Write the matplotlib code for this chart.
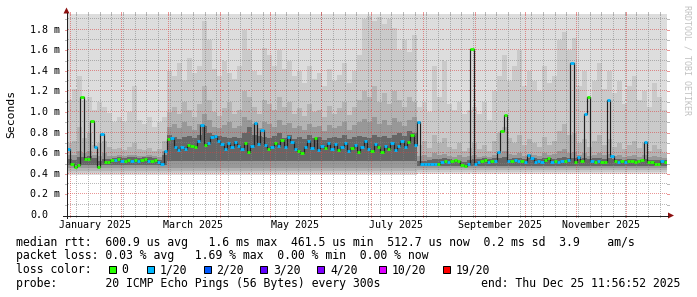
import numpy as np
import matplotlib
matplotlib.use("Agg")
import matplotlib.pyplot as plt
import matplotlib.dates as mdates
from matplotlib.patches import Polygon, Rectangle
from matplotlib.lines import Line2D
from datetime import datetime, timedelta

# ---------------------------------------------------------------- data
t_start = datetime(2024, 12, 30, 11, 56, 52)
t_end = datetime(2025, 12, 25, 11, 56, 52)
median_step_days = 2
smoke_step_days = 3

# median rtt (ms), one value per 2 days
median_ms = [
    # Dec 30 - Feb 28
    0.64, 0.50, 0.47, 0.49, 1.15, 0.54, 0.54, 0.91, 0.66, 0.47,
    0.79, 0.51, 0.51, 0.53, 0.53, 0.54, 0.52, 0.52, 0.53, 0.52,
    0.53, 0.52, 0.53, 0.54, 0.52, 0.52, 0.53, 0.51, 0.50, 0.62,
    # Feb 28 - Jul 28
    0.74, 0.75, 0.66, 0.63, 0.66, 0.64, 0.68, 0.67, 0.66, 0.72,
    0.87, 0.68, 0.70, 0.76, 0.77, 0.72, 0.69, 0.64, 0.70, 0.66,
    0.71, 0.67, 0.64, 0.70, 0.61, 0.67, 0.89, 0.69, 0.83, 0.68,
    0.64, 0.66, 0.70, 0.67, 0.73, 0.66, 0.76, 0.71, 0.64, 0.62,
    0.60, 0.66, 0.72, 0.65, 0.75, 0.63, 0.67, 0.65, 0.70, 0.64,
    0.69, 0.63, 0.66, 0.70, 0.62, 0.65, 0.68, 0.61, 0.66, 0.72,
    0.64, 0.62, 0.69, 0.66, 0.61, 0.67, 0.64, 0.70, 0.63, 0.67,
    0.72, 0.66, 0.71, 0.78, 0.68, 0.90,
    # Jul 28 - Dec 25
    0.495, 0.495, 0.495, 0.495, 0.50, 0.50, 0.51, 0.52, 0.51, 0.52,
    0.53, 0.52, 0.49, 0.48, 0.50, 1.61, 0.50, 0.51, 0.52, 0.53,
    0.51, 0.52, 0.52, 0.61, 0.82, 0.97, 0.52, 0.52, 0.53, 0.52,
    0.52, 0.51, 0.58, 0.55, 0.51, 0.52, 0.51, 0.53, 0.55, 0.51,
    0.52, 0.51, 0.52, 0.52, 0.53, 1.48, 0.51, 0.56, 0.52, 0.98,
    1.15, 0.52, 0.51, 0.52, 0.51, 0.51, 1.12, 0.57, 0.52, 0.51,
    0.52, 0.51, 0.52, 0.52, 0.51, 0.52, 0.53, 0.71, 0.51, 0.51,
    0.50, 0.50, 0.52, 0.51,
]

# lost pings (of 20) per median value
loss_n = [
    1, 0, 0, 0, 0, 0, 0, 0, 1, 0, 1, 0, 0, 0, 1, 0, 1, 0, 0, 1,
    0, 1, 0, 0, 1, 0, 0, 1, 1, 1,
    0, 1, 1, 1, 1, 1, 0, 0, 0, 1, 1, 0, 1, 1, 1, 1, 1, 1, 1, 1,
    1, 1, 1, 0, 0, 1, 1, 1, 1, 1, 0, 1, 0, 1, 0, 1, 1, 1, 1, 0,
    0, 1, 1, 1, 0, 1, 1, 0, 1, 1, 1, 0, 1, 1, 1, 0, 1, 0, 1, 1,
    1, 0, 1, 0, 0, 1, 0, 1, 1, 1, 1, 1, 0, 0, 1, 1,
    1, 1, 1, 1, 1, 0, 1, 0, 1, 0, 0, 0, 0, 0, 1, 0, 1, 1, 0, 0,
    1, 0, 1, 1, 0, 0, 1, 0, 1, 1, 0, 1, 1, 1, 1, 1, 1, 0, 0, 1,
    0, 1, 1, 0, 1, 1, 0, 1, 0, 1, 0, 1, 0, 1, 0, 0, 1, 1, 0, 1,
    0, 1, 0, 0, 0, 0, 0, 1, 0, 0, 0, 0, 1, 0,
]

loss_levels = [0, 1, 2, 3, 4, 10, 19]
loss_labels = ["0", "1/20", "2/20", "3/20", "4/20", "10/20", "19/20"]
loss_colors = ["#26ff00", "#00b8ff", "#0059ff", "#5e00ff", "#7e00ff",
               "#dd00ff", "#ff0000"]

# smoke (ping spread), one value per 3 days; three regimes
period_start = [datetime(2024, 12, 30, 11, 56, 52),
                datetime(2025, 2, 28, 11, 56, 52),
                datetime(2025, 7, 28, 11, 56, 52)]
smoke_colors = ["#dddddd", "#cacaca", "#b4b4b4", "#989898", "#666666"]
smoke_lo_by_period = [
    [0.39, 0.39, 0.40],
    [0.41, 0.41, 0.42],
    [0.43, 0.43, 0.44],
    [0.46, 0.46, 0.46],
    [0.49, 0.52, 0.48],
]
smoke_hi1_by_period = [1.96, 1.96, 1.96]

smoke_hi2 = [
    1.12, 1.22, 1.35, 1.12, 1.15, 1.02, 1.10, 1.05, 0.99, 0.90,
    0.95, 0.90, 1.00, 1.25, 0.92, 0.88, 0.95, 0.85, 0.90, 0.95,
    1.40, 1.35, 1.48, 1.30, 1.52, 1.38, 1.45, 1.88, 1.70, 1.42,
    1.35, 1.50, 1.38, 1.32, 1.45, 1.80, 1.60, 1.40, 1.36, 1.62,
    1.55, 1.45, 1.60, 1.42, 1.50, 1.35, 1.40, 1.28, 1.45, 1.32,
    1.38, 1.25, 1.42, 1.30, 1.36, 1.48, 1.28, 1.40, 1.55, 1.90,
    1.93, 1.88, 1.92, 1.85, 1.90, 1.82, 1.60, 1.70, 1.58, 1.75,
    1.05, 1.10, 1.00, 1.45, 1.15, 1.50, 1.08, 1.02, 1.10, 0.98,
    1.02, 1.05, 0.98, 1.10, 0.92, 1.20, 1.35, 1.55, 1.30, 1.45,
    1.60, 1.25, 1.40, 1.30, 1.20, 1.45, 1.28, 1.35, 1.70, 1.78,
    1.60, 1.72, 1.25, 1.40, 1.15, 1.30, 1.48, 1.22, 1.40, 1.18,
    1.30, 1.08, 1.25, 1.35, 1.12, 1.20, 1.05, 1.28, 1.15, 1.02,
]
smoke_hi3 = [
    0.70, 0.72, 0.85, 0.75, 0.80, 0.68, 0.70, 0.72, 0.66, 0.64,
    0.65, 0.63, 0.66, 0.70, 0.64, 0.63, 0.65, 0.62, 0.64, 0.72,
    1.00, 1.05, 0.98, 1.10, 1.02, 0.95, 1.08, 1.25, 1.12, 1.00,
    0.96, 1.04, 1.10, 0.98, 1.02, 1.20, 1.15, 1.05, 0.98, 1.12,
    1.08, 1.02, 1.15, 1.05, 1.10, 0.98, 1.04, 0.96, 1.08, 1.00,
    1.02, 0.95, 1.06, 0.98, 1.04, 1.10, 0.97, 1.05, 1.12, 1.20,
    1.15, 1.25, 1.10, 1.18, 1.08, 1.20, 1.12, 1.05, 1.15, 1.10,
    0.68, 0.72, 0.65, 0.78, 0.70, 0.75, 0.66, 0.64, 0.70, 0.62,
    0.65, 0.70, 0.64, 0.68, 0.62, 0.72, 0.80, 0.85, 0.75, 0.70,
    0.78, 0.68, 0.74, 0.70, 0.66, 0.76, 0.68, 0.72, 0.82, 0.88,
    0.78, 0.80, 0.70, 0.74, 0.66, 0.72, 0.78, 0.68, 0.74, 0.66,
    0.70, 0.64, 0.68, 0.72, 0.65, 0.70, 0.62, 0.68, 0.64, 0.60,
]
smoke_hi4 = [
    0.58, 0.58, 0.62, 0.60, 0.62, 0.58, 0.57, 0.60, 0.57, 0.57,
    0.58, 0.57, 0.58, 0.58, 0.57, 0.57, 0.58, 0.57, 0.56, 0.62,
    0.85, 0.88, 0.84, 0.90, 0.86, 0.83, 0.88, 0.98, 0.92, 0.85,
    0.84, 0.87, 0.90, 0.84, 0.86, 0.95, 0.92, 0.88, 0.84, 0.90,
    0.88, 0.85, 0.92, 0.87, 0.89, 0.84, 0.86, 0.83, 0.88, 0.85,
    0.86, 0.82, 0.87, 0.84, 0.86, 0.90, 0.83, 0.87, 0.90, 0.93,
    0.90, 0.95, 0.88, 0.92, 0.87, 0.94, 0.90, 0.86, 0.92, 0.95,
    0.57, 0.58, 0.56, 0.60, 0.58, 0.59, 0.57, 0.56, 0.58, 0.56,
    0.57, 0.58, 0.56, 0.57, 0.56, 0.58, 0.60, 0.62, 0.59, 0.58,
    0.60, 0.57, 0.59, 0.58, 0.57, 0.60, 0.58, 0.59, 0.62, 0.64,
    0.60, 0.61, 0.58, 0.60, 0.57, 0.58, 0.60, 0.58, 0.59, 0.57,
    0.58, 0.56, 0.57, 0.58, 0.56, 0.58, 0.56, 0.57, 0.56, 0.55,
]
smoke_hi5 = [
    0.54, 0.53, 0.56, 0.56, 0.57, 0.55, 0.52, 0.54, 0.54, 0.55,
    0.56, 0.55, 0.56, 0.56, 0.55, 0.56, 0.56, 0.55, 0.53, 0.58,
    0.78, 0.76, 0.74, 0.76, 0.77, 0.75, 0.78, 0.86, 0.80, 0.78,
    0.77, 0.76, 0.75, 0.76, 0.75, 0.80, 0.85, 0.78, 0.77, 0.76,
    0.75, 0.77, 0.80, 0.75, 0.78, 0.74, 0.76, 0.74, 0.78, 0.75,
    0.76, 0.73, 0.75, 0.76, 0.75, 0.78, 0.74, 0.76, 0.77, 0.76,
    0.75, 0.78, 0.76, 0.77, 0.75, 0.78, 0.80, 0.77, 0.82, 0.80,
    0.52, 0.52, 0.53, 0.54, 0.54, 0.55, 0.54, 0.53, 0.52, 0.51,
    0.53, 0.54, 0.54, 0.55, 0.54, 0.55, 0.55, 0.56, 0.54, 0.55,
    0.55, 0.54, 0.55, 0.55, 0.54, 0.55, 0.55, 0.54, 0.55, 0.56,
    0.55, 0.55, 0.54, 0.55, 0.54, 0.55, 0.55, 0.54, 0.55, 0.54,
    0.54, 0.53, 0.54, 0.54, 0.53, 0.54, 0.53, 0.53, 0.53, 0.53,
]

ytick_values = [0.0, 0.2, 0.4, 0.6, 0.8, 1.0, 1.2, 1.4, 1.6, 1.8]
ytick_labels = ["0.0", "0.2 m", "0.4 m", "0.6 m", "0.8 m", "1.0 m",
                "1.2 m", "1.4 m", "1.6 m", "1.8 m"]
month_labels = ["January 2025", "March 2025", "May 2025", "July 2025",
                "September 2025", "November 2025"]
month_label_months = [1, 3, 5, 7, 9, 11]

legend_rtt = ("median rtt:  600.9 us avg   1.6 ms max  461.5 us min  "
              "512.7 us now  0.2 ms sd  3.9    am/s")
legend_loss = "packet loss: 0.03 % avg   1.69 % max  0.00 % min  0.00 % now"
legend_probe = "probe:       20 ICMP Echo Pings (56 Bytes) every 300s"
legend_end = "end: Thu Dec 25 11:56:52 2025"

# ---------------------------------------------------------------- figure
W, H, DPI = 697, 297, 100
fig = plt.figure(figsize=(W / DPI, H / DPI), dpi=DPI)
fig.patch.set_facecolor("white")
L, R, T, B = 67, 667, 14, 215
ax = fig.add_axes([L / W, 1 - B / H, (R - L) / W, (B - T) / H])
ax.set_facecolor("white")
for s in ax.spines.values():
    s.set_visible(False)
ax.set_xticks([])
ax.set_yticks([])

x0 = mdates.date2num(t_start)
x1 = mdates.date2num(t_end)
ymax = (B - T) / 103.0
ax.set_xlim(x0, x1)
ax.set_ylim(0, ymax)

mono = "DejaVu Sans Mono"


def fx(px):
    return px / W


def fy(py):
    return 1 - py / H


# ---- smoke
n_smoke = len(smoke_hi2)
sm_dates = [t_start + timedelta(days=smoke_step_days * k) for k in range(n_smoke + 1)]
sm_edges = mdates.date2num(sm_dates)
pstart = mdates.date2num(period_start)
pidx = np.searchsorted(pstart, sm_edges[:-1] + 1e-6, side="right") - 1
his = [np.array(smoke_hi1_by_period)[pidx], np.array(smoke_hi2),
       np.array(smoke_hi3), np.array(smoke_hi4), np.array(smoke_hi5)]
for band, (col, hi) in enumerate(zip(smoke_colors, his)):
    lo = np.array(smoke_lo_by_period[band])[pidx]
    ax.stairs(hi, sm_edges, baseline=lo, fill=True, color=col,
              linewidth=0, zorder=1, antialiased=False)

# ---- grid (rrdtool style: dotted inside, 2px solid ticks outside)
minor_c = (0.50, 0.50, 0.50, 0.55)
major_c = (0.85, 0.25, 0.25, 0.55)
ytr = ax.get_yaxis_transform()
xtr = ax.get_xaxis_transform()
tx = 2.0 / (R - L)
ty = 2.0 / (B - T)
gkw = dict(lw=0.72, antialiased=False)
dot_x = (np.arange(L, R, 2) + 0.5 - L) / (R - L)      # every other pixel column
dot_y = (B - (np.arange(T + 1, B, 2) + 0.5)) / (B - T)  # every other pixel row

for i in range(1, 20):
    v = i * 0.1
    c = major_c if i % 2 == 0 else minor_c
    ax.plot(dot_x, np.full(dot_x.shape, v), transform=ytr, ls="none",
            marker=",", color=c, zorder=2)
    ax.plot([-tx, 0], [v, v], transform=ytr, color=c, zorder=2, clip_on=False, **gkw)
    ax.plot([1, 1 + tx], [v, v], transform=ytr, color=c, zorder=2, clip_on=False, **gkw)

sundays = []
d = datetime(2025, 1, 5)
while d < t_end:
    sundays.append(d)
    d += timedelta(days=7)
month_starts = [datetime(2025, m, 1) for m in range(1, 13)]
for dates, c, z in ((sundays, minor_c, 2), (month_starts, major_c, 2.1)):
    for d in dates:
        xv = mdates.date2num(d)
        ax.plot(np.full(dot_y.shape, xv), dot_y, transform=xtr, ls="none",
                marker=",", color=c, zorder=z)
        ax.plot([xv, xv], [-ty, 0], transform=xtr, color=c, zorder=z, clip_on=False, **gkw)
        ax.plot([xv, xv], [1, 1 + ty], transform=xtr, color=c, zorder=z, clip_on=False, **gkw)

# ---- median line + loss-coloured markers
n_med = len(median_ms)
md_dates = [t_start + timedelta(days=median_step_days * j) for j in range(n_med + 1)]
md_edges = mdates.date2num(md_dates)
med = np.array(median_ms)
ax.stairs(med, md_edges, baseline=None, color="#202020", linewidth=0.85, zorder=4)
cmap = dict(zip(loss_levels, loss_colors))
cols = [cmap[n] for n in loss_n]
ax.hlines(med, md_edges[:-1], md_edges[1:], colors=cols, linewidth=2.0,
          zorder=5, capstyle="butt")

# ---- axes lines and arrows
fig.add_artist(Line2D([fx(63), fx(668)], [fy(215.5), fy(215.5)], color="#202020", lw=0.72))
fig.add_artist(Line2D([fx(66.5), fx(66.5)], [fy(218), fy(13)], color="#202020", lw=0.72))
fig.add_artist(Polygon([(fx(668), fy(212.5)), (fx(668), fy(218.5)), (fx(674), fy(215.5))],
                       closed=True, color="#8c1010", lw=0))
fig.add_artist(Polygon([(fx(63.5), fy(13.5)), (fx(69.5), fy(13.5)), (fx(66.5), fy(7.5))],
                       closed=True, color="#8c1010", lw=0))

# ---- axis labels
for v, lab in zip(ytick_values, ytick_labels):
    ax.text((30.5 - L) / (R - L), v, lab, transform=ytr, ha="left", va="center",
            family=mono, size=7.2, color="black")
for m, lab in zip(month_label_months, month_labels):
    xv = mdates.date2num(datetime(2025, m, 1) + timedelta(days=15))
    ax.text(xv, (B - 228.0) / (B - T), lab, transform=xtr, ha="center",
            va="baseline", family=mono, size=7.2, color="black")

fig.text(fx(11), fy(114), "Seconds", rotation=90, ha="center", va="center",
         family=mono, size=8.2, color="black")
fig.text(fx(687.5), fy(5), "RRDTOOL / TOBI OETIKER", rotation=270, ha="center",
         va="top", family=mono, size=6.0, color="#c0c0c0")

# ---- legend
lsize = 8.3
fig.text(fx(16), fy(245.6), legend_rtt, family=mono, size=lsize, va="baseline", ha="left")
fig.text(fx(16), fy(259.5), legend_loss, family=mono, size=lsize, va="baseline", ha="left")
fig.text(fx(16), fy(273.4), "loss color:", family=mono, size=lsize, va="baseline", ha="left")
box_x = [108, 146.5, 203, 259.5, 316.5, 378, 442.5]
for bx, col, lab in zip(box_x, loss_colors, loss_labels):
    fig.add_artist(Rectangle((fx(bx + 0.5), fy(273)), 7 / W, 7 / H, facecolor=col,
                             edgecolor="black", lw=0.72))
    fig.text(fx(bx + 13.5), fy(273.4), lab, family=mono, size=lsize, va="baseline", ha="left")
fig.text(fx(16), fy(287.2), legend_probe, family=mono, size=lsize, va="baseline", ha="left")
fig.text(fx(680.5), fy(287.2), legend_end, family=mono, size=lsize, va="baseline", ha="right")

fig.savefig("out.png", dpi=DPI, facecolor="white")
